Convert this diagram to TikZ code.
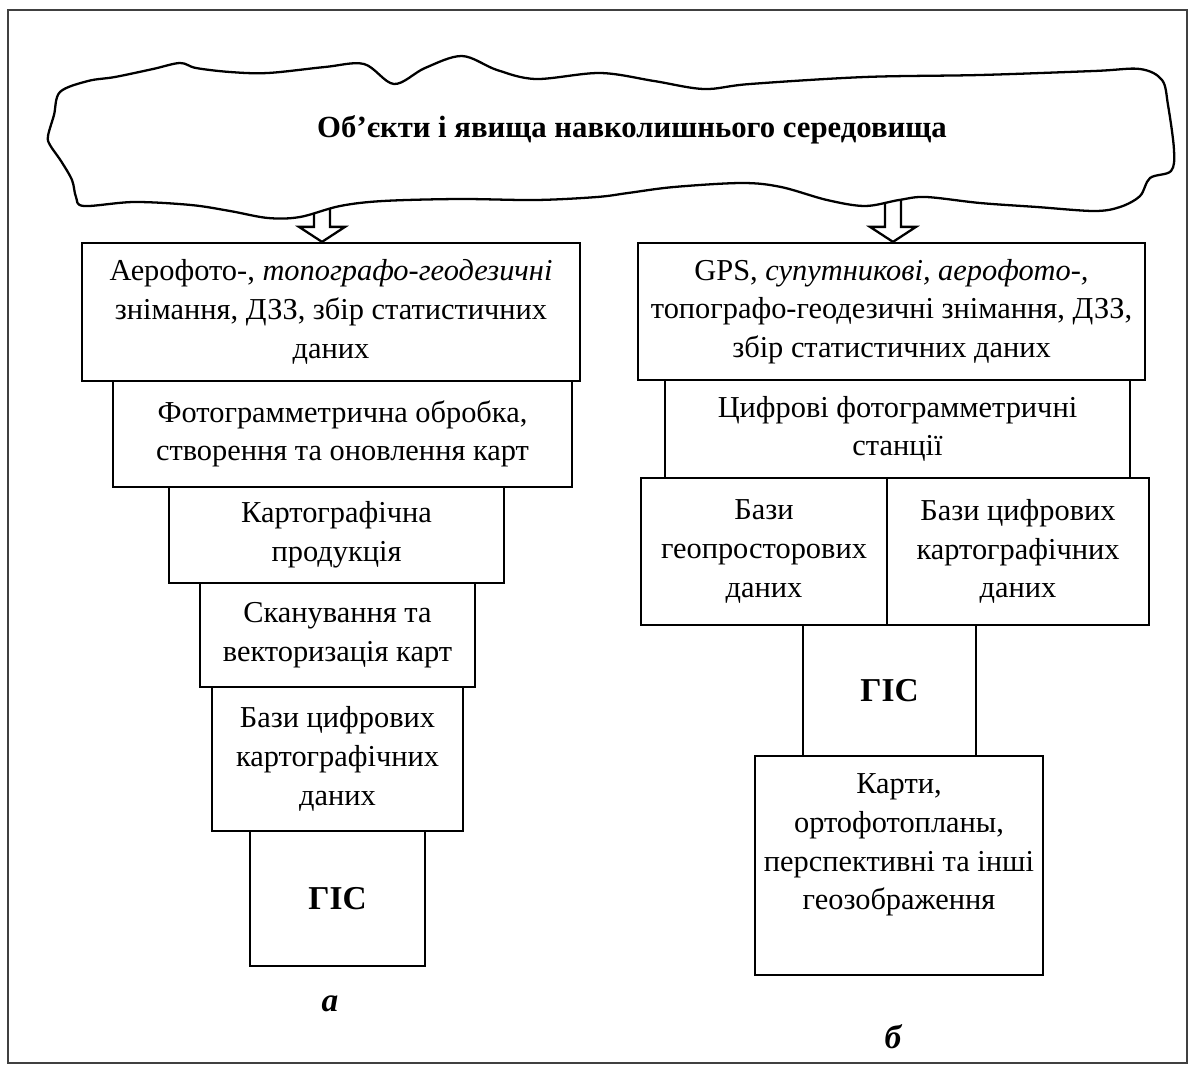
\documentclass[tikz,border=0pt]{standalone}
\usepackage{fontspec}
\setmainfont{Liberation Serif}
\usetikzlibrary{calc}

\tikzset{
  frameline/.style={draw=black!75, line width=1.1pt},
  outline/.style={draw, line width=1.3pt},
  blk/.style={outline, fill=white, inner sep=0pt, align=center,
    font=\fontsize{17.3}{22}\selectfont},
  gis/.style={blk, font=\fontsize{19}{22}\bfseries},
  txt/.style={inner sep=0pt, align=center, font=\fontsize{17.3}{22}\selectfont},
  panel/.style={inner sep=0pt, font=\fontsize{19}{22}\bfseries\itshape},
  arrowline/.style={outline, fill=white, line join=miter},
}

% hollow block arrow: #1 = start of the shaft, #2 = tip
\newcommand\hollowarrow[2]{%
  \draw[arrowline] ($(#1)+(-8,0)$) -- ($(#2)+(-8,-15)$) -- ($(#2)+(-23,-15)$)
    -- (#2) -- ($(#2)+(23,-15)$) -- ($(#2)+(8,-15)$) -- ($(#1)+(8,0)$);}

\begin{document}
\begin{tikzpicture}[x=0.02cm, y=-0.02cm]
\useasboundingbox (0,0) rectangle (1197,1072);
\fill[white] (0,0) rectangle (1197,1072);
\draw[frameline] (8,10) rectangle (1187,1063);

% ---- left chain ----
\node[blk, minimum width=9.96cm, minimum height=2.76cm] (L1) at (331,312)
  {Аерофото-, \textit{топографо-геодезичні}\\ знімання, ДЗЗ, збір статистичних\\ даних};
\node[blk, minimum width=9.18cm, minimum height=2.12cm] (L2) at (342.5,434)
  {Фотограмметрична обробка,\\ створення та оновлення карт};
\node[blk, minimum width=6.70cm, minimum height=1.92cm] (L3) at (336.5,535)
  {Картографічна\\ продукція};
\node[blk, minimum width=5.50cm, minimum height=2.08cm] (L4) at (337.5,635)
  {Сканування та\\ векторизація карт};
\node[blk, minimum width=5.02cm, minimum height=2.88cm] (L5) at (337.5,759)
  {Бази цифрових\\ картографічних\\ даних};
\node[gis, minimum width=3.50cm, minimum height=2.70cm] (L6) at (337.5,898.5) {ГІС};
\node[panel] (pa) at (330,1004) {а};

% ---- right chain ----
\node[blk, minimum width=10.14cm, minimum height=2.74cm] (R1) at (891.5,311.5)
  {GPS, \textit{супутникові, аерофото-,}\\ топографо-геодезичні знімання, ДЗЗ,\\ збір статистичних даних};
\node[blk, minimum width=9.30cm, minimum height=1.96cm] (R2) at (897.5,429)
  {Цифрові фотограмметричні\\ станції};
\node[blk, minimum width=4.92cm, minimum height=2.94cm] (R3a) at (764,551.5)
  {Бази\\ геопросторових\\ даних};
\node[blk, minimum width=5.24cm, minimum height=2.94cm] (R3b) at (1018,551.5)
  {Бази цифрових\\ картографічних\\ даних};
\node[gis, minimum width=3.46cm, minimum height=2.62cm] (R4) at (889.5,690.5) {ГІС};
\node[blk, minimum width=5.76cm, minimum height=4.38cm] (R5) at (899,865.5) {};
\node[txt] (R5t) at (899,845)
  {Карти,\\ ортофотопланы,\\ перспективні та інші\\ геозображення};
\node[panel] (pb) at (893,1037) {б};

% ---- arrows from the environment ----
\coordinate (sa) at (322,195);
\coordinate (sb) at (893,185);
\hollowarrow{sa}{sa |- L1.north}
\hollowarrow{sb}{sb |- R1.north}

% ---- environment cloud ----
\draw[outline, fill=white] plot[smooth cycle, tension=0.55] coordinates {
  (60,92) (88,81) (115,77) (153,69) (180,63) (196,68) (230,72) (268,73)
  (325,67) (364,64) (394,84) (425,68) (462,56) (497,70) (536,79) (600,73)
  (654,81) (704,89) (750,84) (865,77) (980,75) (1094,71) (1140,69)
  (1162,80) (1168,105) (1174,150) (1171,171) (1150,178) (1140,196)
  (1120,207) (1094,211) (1037,207) (980,203) (926,197) (899,200) (865,206)
  (827,200) (781,187) (742,183) (674,187) (628,193) (597,197) (536,200)
  (459,199) (383,201) (340,206) (300,217) (268,218) (230,211) (191,205)
  (134,202) (84,206) (76,197) (72,180) (61,161) (50,145) (48,136) (54,115)};
\node[font=\fontsize{17.5}{21}\bfseries] (env) at (632,130)
  {Об’єкти і явища навколишнього середовища};
\end{tikzpicture}
\end{document}
